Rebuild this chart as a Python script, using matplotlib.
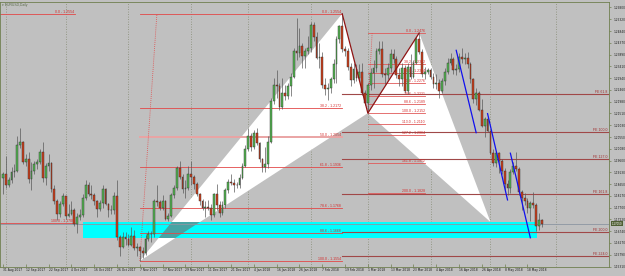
import matplotlib
matplotlib.use("Agg")
import numpy as np
import pandas as pd
import matplotlib.pyplot as plt
import matplotlib.transforms as mtransforms
from matplotlib.patches import Polygon, Rectangle

# ---- data -------------------------------------------------------------
# daily bars shown on the chart (MT4 skips Christmas and New Year)
holidays = pd.to_datetime(["2017-12-25", "2018-01-01"])
dates = pd.bdate_range("2017-08-31", "2018-05-25").drop(holidays)
future = pd.bdate_range("2017-08-31", "2018-06-30").drop(holidays)

first_open = 1.1888
closes = [
    1.1905, 1.1860, 1.1880, 1.1915, 1.1920, 1.2025, 1.2035, 1.1955, 1.1965, 1.1885,
    1.1920, 1.1945, 1.1955, 1.1995, 1.1890, 1.1940, 1.1950, 1.1845, 1.1795, 1.1745,
    1.1785, 1.1815, 1.1735, 1.1745, 1.1760, 1.1705, 1.1730, 1.1740, 1.1810, 1.1860,
    1.1825, 1.1820, 1.1795, 1.1765, 1.1790, 1.1845, 1.1785, 1.1760, 1.1762, 1.1815,
    1.1650, 1.1610, 1.1650, 1.1645, 1.1620, 1.1655, 1.1605, 1.1610, 1.1595, 1.1585,
    1.1645, 1.1665, 1.1663, 1.1795, 1.1792, 1.1770, 1.1795, 1.1725, 1.1735, 1.1820,
    1.1850, 1.1930, 1.1895, 1.1845, 1.1848, 1.1905, 1.1895, 1.1865, 1.1825, 1.1795,
    1.1770, 1.1772, 1.1768, 1.1740, 1.1825, 1.1780, 1.1750, 1.1780, 1.1840, 1.1875,
    1.1870, 1.1860, 1.1862, 1.1890, 1.1940, 1.2005, 1.2060, 1.2015, 1.2070, 1.2030,
    1.1965, 1.1935, 1.1945, 1.2035, 1.2200, 1.2265, 1.2262, 1.2175, 1.2235, 1.2220,
    1.2260, 1.2300, 1.2405, 1.2395, 1.2425, 1.2385, 1.2405, 1.2415, 1.2510, 1.2460,
    1.2375, 1.2378, 1.2265, 1.2250, 1.2253, 1.2290, 1.2350, 1.2450, 1.2505, 1.2410,
    1.2405, 1.2340, 1.2285, 1.2330, 1.2295, 1.2320, 1.2235, 1.2195, 1.2265, 1.2315,
    1.2335, 1.2405, 1.2410, 1.2310, 1.2305, 1.2335, 1.2390, 1.2370, 1.2305, 1.2290,
    1.2335, 1.2240, 1.2340, 1.2300, 1.2355, 1.2450, 1.2400, 1.2310, 1.2320, 1.2325,
    1.2300, 1.2270, 1.2275, 1.2240, 1.2280, 1.2320, 1.2355, 1.2370, 1.2325, 1.2330,
    1.2380, 1.2370, 1.2375, 1.2350, 1.2290, 1.2210, 1.2235, 1.2165, 1.2100, 1.2130,
    1.2080, 1.1990, 1.1950, 1.1990, 1.1960, 1.1920, 1.1865, 1.1850, 1.1915, 1.1940,
    1.1925, 1.1835, 1.1810, 1.1795, 1.1770, 1.1790, 1.1780, 1.1695, 1.1720, 1.1705,
]
highs = [
    1.1913, 1.1980, 1.1895, 1.1935, 1.1945, 1.2060, 1.2092, 1.2040, 1.1985, 1.1995,
    1.1955, 1.1960, 1.1965, 1.2005, 1.2035, 1.1950, 1.1985, 1.1955, 1.1860, 1.1805,
    1.1795, 1.1830, 1.1815, 1.1785, 1.1795, 1.1770, 1.1750, 1.1765, 1.1825, 1.1880,
    1.1875, 1.1860, 1.1830, 1.1800, 1.1800, 1.1860, 1.1850, 1.1790, 1.1780, 1.1835,
    1.1880, 1.1660, 1.1670, 1.1670, 1.1665, 1.1690, 1.1680, 1.1625, 1.1615, 1.1610,
    1.1660, 1.1675, 1.1675, 1.1805, 1.1860, 1.1800, 1.1820, 1.1800, 1.1750, 1.1830,
    1.1860, 1.1940, 1.1960, 1.1905, 1.1880, 1.1940, 1.1960, 1.1900, 1.1875, 1.1830,
    1.1805, 1.1795, 1.1800, 1.1785, 1.1830, 1.1865, 1.1795, 1.1795, 1.1850, 1.1885,
    1.1905, 1.1885, 1.1875, 1.1905, 1.1950, 1.2025, 1.2090, 1.2070, 1.2085, 1.2090,
    1.2035, 1.1970, 1.2015, 1.2060, 1.2215, 1.2295, 1.2325, 1.2275, 1.2295, 1.2265,
    1.2275, 1.2315, 1.2415, 1.2537, 1.2495, 1.2435, 1.2415, 1.2465, 1.2520, 1.2520,
    1.2480, 1.2435, 1.2400, 1.2295, 1.2275, 1.2300, 1.2370, 1.2465, 1.2510, 1.2554,
    1.2425, 1.2415, 1.2355, 1.2355, 1.2350, 1.2350, 1.2355, 1.2245, 1.2275, 1.2335,
    1.2365, 1.2415, 1.2445, 1.2445, 1.2335, 1.2355, 1.2410, 1.2410, 1.2385, 1.2335,
    1.2355, 1.2345, 1.2355, 1.2390, 1.2365, 1.2460, 1.2476, 1.2410, 1.2340, 1.2335,
    1.2335, 1.2315, 1.2310, 1.2290, 1.2295, 1.2335, 1.2375, 1.2395, 1.2380, 1.2350,
    1.2395, 1.2414, 1.2395, 1.2400, 1.2360, 1.2295, 1.2255, 1.2240, 1.2210, 1.2135,
    1.2135, 1.2085, 1.2005, 1.2000, 1.1995, 1.1965, 1.1930, 1.1880, 1.1925, 1.1955,
    1.1995, 1.1935, 1.1840, 1.1830, 1.1810, 1.1795, 1.1835, 1.1790, 1.1750, 1.1725,
]
lows = [
    1.1823, 1.1850, 1.1855, 1.1870, 1.1895, 1.1915, 1.2010, 1.1945, 1.1940, 1.1870,
    1.1840, 1.1905, 1.1925, 1.1945, 1.1875, 1.1860, 1.1920, 1.1835, 1.1785, 1.1720,
    1.1730, 1.1775, 1.1725, 1.1730, 1.1740, 1.1695, 1.1669, 1.1720, 1.1730, 1.1800,
    1.1815, 1.1805, 1.1780, 1.1730, 1.1755, 1.1770, 1.1780, 1.1730, 1.1745, 1.1745,
    1.1640, 1.1575, 1.1605, 1.1620, 1.1615, 1.1615, 1.1600, 1.1575, 1.1554, 1.1565,
    1.1580, 1.1635, 1.1630, 1.1650, 1.1775, 1.1760, 1.1760, 1.1720, 1.1715, 1.1730,
    1.1810, 1.1840, 1.1885, 1.1830, 1.1810, 1.1840, 1.1860, 1.1845, 1.1815, 1.1780,
    1.1760, 1.1730, 1.1760, 1.1718, 1.1730, 1.1760, 1.1730, 1.1740, 1.1770, 1.1830,
    1.1860, 1.1835, 1.1850, 1.1850, 1.1885, 1.1935, 1.2000, 1.2000, 1.2005, 1.2025,
    1.1955, 1.1915, 1.1915, 1.1930, 1.2030, 1.2190, 1.2215, 1.2165, 1.2170, 1.2205,
    1.2210, 1.2220, 1.2295, 1.2365, 1.2380, 1.2335, 1.2335, 1.2390, 1.2400, 1.2445,
    1.2370, 1.2335, 1.2255, 1.2225, 1.2205, 1.2235, 1.2275, 1.2275, 1.2435, 1.2400,
    1.2385, 1.2325, 1.2260, 1.2275, 1.2280, 1.2285, 1.2225, 1.2185, 1.2152, 1.2245,
    1.2255, 1.2320, 1.2390, 1.2300, 1.2270, 1.2290, 1.2320, 1.2355, 1.2295, 1.2260,
    1.2260, 1.2235, 1.2230, 1.2290, 1.2295, 1.2350, 1.2390, 1.2300, 1.2290, 1.2310,
    1.2290, 1.2255, 1.2250, 1.2215, 1.2235, 1.2265, 1.2310, 1.2345, 1.2310, 1.2305,
    1.2320, 1.2355, 1.2350, 1.2335, 1.2275, 1.2195, 1.2185, 1.2160, 1.2095, 1.2055,
    1.2075, 1.1985, 1.1940, 1.1935, 1.1910, 1.1905, 1.1840, 1.1820, 1.1830, 1.1905,
    1.1920, 1.1820, 1.1760, 1.1780, 1.1750, 1.1715, 1.1770, 1.1675, 1.1680, 1.1690,
]

# harmonic pattern X, A, B, C, D
pattern_dates = ["2017-11-07", "2018-02-16", "2018-03-01", "2018-03-27", "2018-05-01"]
pattern_prices = [1.1554, 1.2554, 1.2152, 1.2476, 1.1712]

fib1_levels = [0.0, 38.2, 50.0, 61.8, 78.6, 88.6, 100.0]
fib2_levels = [0.0, 38.2, 50.0, 61.8, 78.6, 88.6, 100.0, 113.0, 127.2, 161.8, 200.0]
fe_levels = [61.8, 100.0, 127.0, 161.8, 200.0, 224.0]
left_levels = [0.0, 100.0]
left_prices = [1.2554, 1.1708]

zone_dates = ["2017-10-10", "2018-05-23"]
zone_prices = [1.1647, 1.1712]

blue_start_dates = ["2018-04-13", "2018-04-30", "2018-05-10"]
blue_start_prices = [1.2406, 1.2150, 1.1990]
blue_end_dates = ["2018-04-24", "2018-05-09", "2018-05-21"]
blue_end_prices = [1.2073, 1.1801, 1.1648]

price_ticks = [1.25800, 1.25320, 1.24840, 1.24370, 1.23890, 1.23410, 1.22940,
               1.22460, 1.21980, 1.21510, 1.21030, 1.20550, 1.20080, 1.19600,
               1.19130, 1.18650, 1.18170, 1.17700, 1.17220, 1.16740, 1.16270,
               1.15790, 1.15310]


def bar(d):
    return future.get_loc(pd.Timestamp(d))


# ---- figure -----------------------------------------------------------
BG = "#c0c0c0"
AXC = "#6f7f4f"
fig = plt.figure(figsize=(6.25, 2.76), dpi=100, facecolor=BG)
ax = fig.add_axes([0, 9 / 276, 609 / 625, 265 / 276], facecolor=BG)
ax.set_xlim(-1.05, 212.6)
ax.set_ylim(1.15298, 1.26014)
plt.rcParams["font.family"] = ["Liberation Sans", "DejaVu Sans"]

x = np.arange(len(dates))
c = np.array(closes)
o = np.array([first_open] + closes[:-1])
h = np.array(highs)
l = np.array(lows)

# month grid
for i in range(1, len(future)):
    if future[i].month != future[i - 1].month:
        ax.axvline(i, color="#858a72", lw=0.6, ls=(0, (1, 2)), zorder=0.5)

# pattern triangles
px = [bar(d) for d in pattern_dates]
pts = list(zip(px, pattern_prices))
xab = Polygon(pts[0:3], closed=True, fc="white", ec="none", zorder=1)
bcd = Polygon(pts[2:5], closed=True, fc="white", ec="none", zorder=1)
ax.add_patch(xab)
ax.add_patch(bcd)

zx0 = bar(zone_dates[0])
zx1 = bar(zone_dates[1]) + 0.5
zone = Rectangle((zx0, zone_prices[0]), zx1 - zx0, zone_prices[1] - zone_prices[0],
                 fc="#00ffff", ec="none", zorder=1.2)
ax.add_patch(zone)
overlap = Polygon(pts[0:3], closed=True, fc="#46a4a4", ec="none", zorder=1.3)
ax.add_patch(overlap)
overlap.set_clip_path(zone)

lab = dict(fontsize=2.5, va="bottom", ha="right", zorder=6)

# fib retracement X -> A
Xp, Ap, Bp, Cp = pattern_prices[0], pattern_prices[1], pattern_prices[2], pattern_prices[3]
for lvl in fib1_levels:
    p = Ap + (Xp - Ap) * lvl / 100
    if lvl == 50.0:
        ax.plot([px[0], px[1]], [p, p], color="#eaa4a4", lw=1.4, zorder=2)
    else:
        ax.plot([px[0], px[1]], [p, p], color="#e24848", lw=0.6, zorder=2)
    ax.text(px[1] - 0.4, p, f"{lvl:.1f} - {p:.4f}", color="#d42a2a", **lab)
ax.plot([px[0], bar("2017-11-15")], [Xp, Ap], color="#e24848", lw=0.6, ls=(0, (1, 1.5)), zorder=2)

# fib retracement B -> C
for lvl in fib2_levels:
    p = Cp - (Cp - Bp) * lvl / 100
    ax.plot([px[2], px[3] + 2], [p, p], color="#e05a5a", lw=0.6, zorder=2)
    ax.text(px[3] + 2, p, f"{lvl:.1f} - {p:.4f}", color="#d42a2a", **lab)
ax.plot([px[2], px[2] + 1.5], [Bp, Cp], color="#e24848", lw=0.6, ls=(0, (1, 1.5)), zorder=2)

# fib expansion A-B-C
for lvl in fe_levels:
    p = Cp - (Ap - Bp) * lvl / 100
    ax.plot([px[1], 212.6], [p, p], color="#a04848", lw=0.8, zorder=2)
    ax.text(212.2, p, f"FE {lvl:.1f}", color="#a02a2a", **lab)

# small retracement at the left edge
for lvl, p in zip(left_levels, left_prices):
    ax.plot([-1.05, 25.3], [p, p], color="#e24848", lw=0.6, zorder=2)
    ax.text(25, p, f"{lvl:.1f} - {p:.4f}", color="#d42a2a", **lab)

# bid line
bid = closes[-1]
ax.axhline(bid, color="#8c96a2", lw=0.6, zorder=2.5)

# candles
up = c >= o
ax.vlines(x, l, h, color="#5a5a5a", lw=0.5, zorder=3)
ax.bar(x[up], (c - o)[up], bottom=o[up], width=0.62, color="#55b552",
       edgecolor="#2e2e2e", lw=0.3, zorder=4)
ax.bar(x[~up], (o - c)[~up], bottom=c[~up], width=0.62, color="#cc3f1c",
       edgecolor="#2e2e2e", lw=0.3, zorder=4)

# pattern legs A-B and B-C
ax.plot(px[1:4], pattern_prices[1:4], color="#8e1414", lw=0.9, zorder=5)

# blue trend lines
for d0, p0, d1, p1 in zip(blue_start_dates, blue_start_prices, blue_end_dates, blue_end_prices):
    ax.plot([bar(d0), bar(d1)], [p0, p1], color="#1010ee", lw=0.9, zorder=5)

# axes styling
for s in ax.spines.values():
    s.set_color(AXC)
    s.set_linewidth(0.6)
ax.yaxis.tick_right()
ax.set_yticks(price_ticks)
ax.set_yticklabels([f"{t:.5f}" for t in price_ticks])
ax.tick_params(axis="y", direction="out", length=1.5, width=0.5, color=AXC,
               pad=1.5, labelsize=2.1, labelcolor="#1a1a1a")
tick_bars = list(range(0, len(dates), 8))
ax.set_xticks(tick_bars)
ax.set_xticklabels([f"{dates[i].day} {dates[i]:%b %Y}" for i in tick_bars],
                   ha="left")
ax.tick_params(axis="x", direction="in", length=2, width=0.5, color=AXC,
               pad=1.0, labelsize=2.2, labelcolor="#1a1a1a")

trans = mtransforms.blended_transform_factory(ax.transAxes, ax.transData)
ax.text(1.004, bid, f"{bid:.5f}", transform=trans, fontsize=2.1, color="white",
        va="center", ha="left", clip_on=False, zorder=7,
        bbox=dict(boxstyle="square,pad=0.25", fc="#4f5f34", ec="none"))

fig.text(2 / 625, 1 - 5 / 276, "\u25be EURUSD,Daily", fontsize=2.4, color="#5a6a4a",
         va="center", ha="left")

fig.savefig("out.png", dpi=100, facecolor=BG)
